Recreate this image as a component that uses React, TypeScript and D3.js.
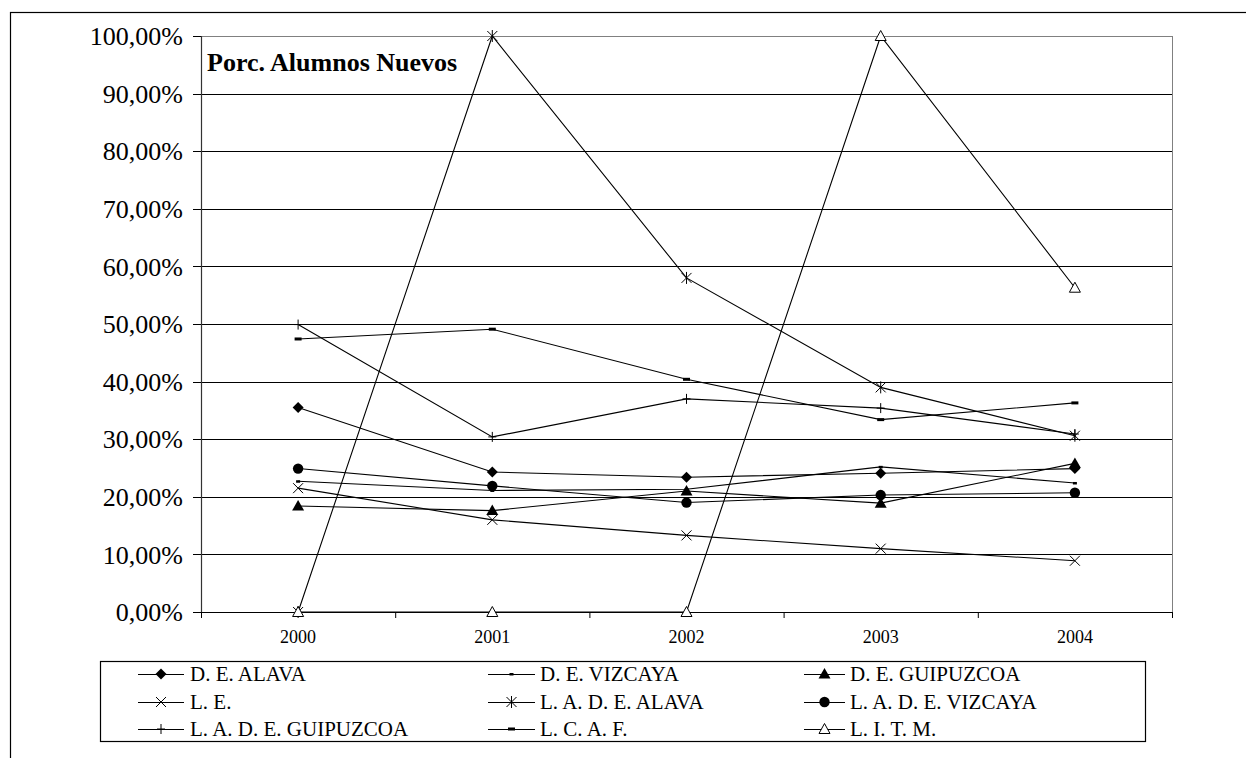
import React from 'react';
import * as d3 from 'd3';

const years = ['2000', '2001', '2002', '2003', '2004'];
const yTicks = [0, 0.1, 0.2, 0.3, 0.4, 0.5, 0.6, 0.7, 0.8, 0.9, 1.0];

const deAlava = [35.5, 24.3, 23.4, 24.1, 24.9];
const deVizcaya = [22.7, 21.1, 21.3, 25.2, 22.4];
const deGuipuzcoa = [18.4, 17.6, 21.0, 18.9, 25.8];
const le = [21.5, 16.0, 13.3, 11.0, 8.9];
const ladeAlava = [0, 100, 58.0, 39.0, 30.6];
const ladeVizcaya = [24.9, 21.9, 19.0, 20.3, 20.7];
const ladeGuipuzcoa = [49.9, 30.4, 37.0, 35.4, 30.9];
const lcaf = [47.4, 49.1, 40.4, 33.4, 36.3];
const litm = [0, 0, 0, 100, 56.3];

const seriesNames = [
  'D. E. ALAVA', 'D. E. VIZCAYA', 'D. E. GUIPUZCOA',
  'L. E.', 'L. A. D. E. ALAVA', 'L. A. D. E. VIZCAYA',
  'L. A. D. E. GUIPUZCOA', 'L. C. A. F.', 'L. I. T. M.',
];
const seriesValues = [deAlava, deVizcaya, deGuipuzcoa, le, ladeAlava, ladeVizcaya, ladeGuipuzcoa, lcaf, litm];
const seriesMarkers = ['diamond', 'dot', 'triangle', 'x', 'star', 'circle', 'plus', 'dash', 'otriangle'];

const title = 'Porc. Alumnos Nuevos';

const FONT = "'Liberation Serif', 'Times New Roman', Times, serif";

function Marker({ type, x, y }: { type: string; x: number; y: number }) {
  switch (type) {
    case 'diamond':
      return <path d={`M${x},${y - 5.5}L${x + 5.5},${y}L${x},${y + 5.5}L${x - 5.5},${y}Z`} fill="#000" />;
    case 'dot':
      return <rect x={x - 2} y={y - 1} width={4} height={2.5} fill="#000" />;
    case 'triangle':
      return <path d={`M${x},${y - 6}L${x + 6},${y + 4.5}L${x - 6},${y + 4.5}Z`} fill="#000" />;
    case 'otriangle':
      return <path d={`M${x},${y - 5.5}L${x + 5.5},${y + 4.5}L${x - 5.5},${y + 4.5}Z`} fill="#fff" stroke="#000" strokeWidth={1} />;
    case 'x':
      return <path d={`M${x - 5},${y - 5}L${x + 5},${y + 5}M${x + 5},${y - 5}L${x - 5},${y + 5}`} stroke="#000" strokeWidth={1} />;
    case 'star':
      return <path d={`M${x - 5},${y - 5}L${x + 5},${y + 5}M${x + 5},${y - 5}L${x - 5},${y + 5}M${x},${y - 6}L${x},${y + 6}`} stroke="#000" strokeWidth={1} />;
    case 'circle':
      return <circle cx={x} cy={y} r={5.2} fill="#000" />;
    case 'plus':
      return <path d={`M${x},${y - 5}L${x},${y + 5}M${x - 4},${y}L${x + 4},${y}`} stroke="#000" strokeWidth={1} />;
    case 'dash':
      return <rect x={x - 3.5} y={y - 1.5} width={7} height={3} fill="#000" />;
    default:
      return null;
  }
}

export default function App() {
  const left = 201, right = 1172, top = 36, bottom = 612;
  const x = d3.scaleBand<string>().domain(years).range([left, right]);
  const y = d3.scaleLinear().domain([0, 1]).range([bottom, top]);
  const locale = d3.formatLocale({ decimal: ',', thousands: '.', grouping: [3], currency: ['', '€'] });
  const fmt = locale.format('.2%');
  const cx = (yr: string) => (x(yr) as number) + x.bandwidth() / 2;
  const line = d3.line<number>().x((_, i) => cx(years[i])).y((v) => y(v / 100));
  const boundaries = years.map((yr) => x(yr) as number).concat([right]);

  const legendCols = [
    { lx1: 138, lx2: 184, tx: 190 },
    { lx1: 488, lx2: 535, tx: 540 },
    { lx1: 804, lx2: 845, tx: 850 },
  ];
  const legendRows = [674, 702, 729];
  const ts = { fontFamily: FONT };

  return (
    <svg width={1246} height={758} style={{ position: 'absolute', left: 0, top: 0, fontFamily: FONT }}>
      <rect x={0} y={0} width={1246} height={758} fill="#fff" />
      <rect x={10.5} y={12.5} width={1400} height={900} fill="none" stroke="#000" strokeWidth={1.2} />
      {yTicks.slice(1, -1).map((t) => (
        <line key={t} x1={left} x2={right} y1={Math.round(y(t)) + 0.5} y2={Math.round(y(t)) + 0.5} stroke="#000" strokeWidth={1} />
      ))}
      <rect x={left + 0.5} y={top + 0.5} width={right - left} height={bottom - top} fill="none" stroke="#808080" strokeWidth={1} />
      <line x1={left + 0.5} x2={left + 0.5} y1={top} y2={bottom + 1} stroke="#333" strokeWidth={1.2} />
      {yTicks.map((t) => (
        <g key={'yt' + t}>
          <line x1={193} x2={left} y1={Math.round(y(t)) + 0.5} y2={Math.round(y(t)) + 0.5} stroke="#000" strokeWidth={1} />
          <text x={183} y={y(t)} dy="0.35em" textAnchor="end" fontSize={26} fill="#000" style={ts}>{fmt(t)}</text>
        </g>
      ))}
      <line x1={left} x2={right + 1} y1={bottom + 0.5} y2={bottom + 0.5} stroke="#000" strokeWidth={1.2} />
      {boundaries.map((b, i) => (
        <line key={'xt' + i} x1={b + 0.5} x2={b + 0.5} y1={bottom} y2={bottom + 6} stroke="#000" strokeWidth={1} />
      ))}
      {years.map((yr) => (
        <text key={yr} x={cx(yr)} y={643} textAnchor="middle" fontSize={18} fill="#000" style={ts}>{yr}</text>
      ))}
      {seriesValues.map((vals, si) => (
        <g key={'s' + si}>
          <path d={line(vals) || ''} fill="none" stroke="#000" strokeWidth={1.1} />
          {vals.map((v, i) => (
            <Marker key={i} type={seriesMarkers[si]} x={cx(years[i])} y={y(v / 100)} />
          ))}
        </g>
      ))}
      <text x={207} y={71} fontSize={26} fontWeight="bold" fill="#000" style={ts}>{title}</text>
      <rect x={100.5} y={661.5} width={1045} height={80} fill="#fff" stroke="#000" strokeWidth={1.2} />
      {seriesNames.map((name, i) => {
        const col = legendCols[i % 3];
        const ry = legendRows[Math.floor(i / 3)];
        const mx = (col.lx1 + col.lx2) / 2;
        return (
          <g key={'lg' + i}>
            <line x1={col.lx1} x2={col.lx2} y1={ry + 0.5} y2={ry + 0.5} stroke="#000" strokeWidth={1} />
            <Marker type={seriesMarkers[i]} x={mx} y={ry} />
            <text x={col.tx} y={ry + 6.5} fontSize={21} fill="#000" style={ts}>{name}</text>
          </g>
        );
      })}
    </svg>
  );
}
